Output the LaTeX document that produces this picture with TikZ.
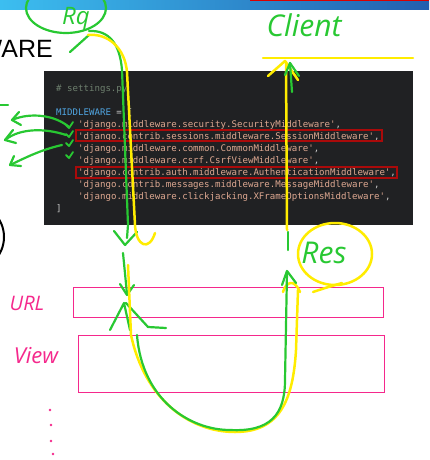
\documentclass[tikz,border=0pt]{standalone}
\usepackage{fontspec}
\setmainfont{Liberation Sans}
\newfontfamily\codefont{DejaVu Sans Mono}[Ligatures=TeXOff]
\newfontfamily\handfont{Open Sans}
\definecolor{hgreen}{RGB}{40,200,50}
\definecolor{hyellow}{RGB}{255,236,0}
\definecolor{hpink}{RGB}{245,40,140}
\definecolor{boxbg}{RGB}{32,33,35}
\definecolor{strcol}{RGB}{222,168,145}
\definecolor{kwcol}{RGB}{80,165,225}
\definecolor{cmtcol}{RGB}{110,128,110}
\definecolor{punct}{RGB}{200,200,200}
\definecolor{redbox}{RGB}{170,10,10}
\definecolor{bannerL}{RGB}{60,190,240}
\definecolor{bannerR}{RGB}{35,95,175}
\begin{document}
\begin{tikzpicture}[x=1pt,y=-1pt,
  codeln/.style={anchor=base west, inner sep=0pt, text=strcol, font=\codefont\fontsize{9.1pt}{11pt}\selectfont},
  grn/.style={draw=hgreen, line width=2.2pt, line cap=round, line join=round},
  ylw/.style={draw=hyellow, line width=2.5pt, line cap=round, line join=round},
  chk/.style={draw=hgreen, line width=1.8pt, line cap=round, line join=round},
  pinkbox/.style={draw=hpink, line width=1.3pt, anchor=north west, inner sep=0pt},
  redframe/.style={draw=redbox, line width=1.1pt},
  hand/.style={inner sep=0pt, font=\handfont\itshape\fontsize{#1}{#1}\selectfont},
]
\useasboundingbox (0,0) rectangle (429,460);
\clip (0,0) rectangle (429,460);
\fill[white] (0,0) rectangle (429,460);
% banner
\shade[left color=bannerL, right color=bannerR] (0,0) rectangle (429,10);
\fill[red!85!black] (250,0) rectangle (429,1.5);
% title (cut off at the left edge, as in the screenshot)
\node[anchor=base east, inner sep=0pt, font=\fontsize{25pt}{25pt}\selectfont] (title) at (53,57) {WARE};
% code box
\node[fill=boxbg, minimum width=369pt, minimum height=154pt, anchor=north west, inner sep=0pt] (code) at (44,71) {};
\node[codeln, text=cmtcol] (c0) at (56,91) {\# settings.py};
\node[codeln] (c1) at (56,115) {\textcolor{kwcol}{MIDDLEWARE} \textcolor{punct}{= [}};
\node[codeln] (l1) at (78,127) {'django.middleware.security.SecurityMiddleware'\textcolor{punct}{,}};
\node[codeln] (l2) at (78,139) {'django.contrib.sessions.middleware.SessionMiddleware'\textcolor{punct}{,}};
\node[codeln] (l3) at (78,151) {'django.middleware.common.CommonMiddleware'\textcolor{punct}{,}};
\node[codeln] (l4) at (78,163) {'django.middleware.csrf.CsrfViewMiddleware'\textcolor{punct}{,}};
\node[codeln] (l5) at (78,175) {'django.contrib.auth.middleware.AuthenticationMiddleware'\textcolor{punct}{,}};
\node[codeln] (l6) at (78,187) {'django.contrib.messages.middleware.MessageMiddleware'\textcolor{punct}{,}};
\node[codeln] (l7) at (78,199) {'django.middleware.clickjacking.XFrameOptionsMiddleware'\textcolor{punct}{,}};
\node[codeln, text=punct] (c9) at (56,211) {]};
\draw[redframe] (76,130) rectangle (382,141);
\draw[redframe] (76,167) rectangle (397,178);
% pink boxes
\node[pinkbox, minimum width=310pt, minimum height=30pt] (url) at (73,287) {};
\node[pinkbox, minimum width=306pt, minimum height=57pt] (view) at (78,335) {};
\node[hand=20, text=hpink] (urllbl) at (27,303) {URL};
\node[hand=22, text=hpink] (viewlbl) at (36,356) {View};
\foreach \p in {(50,410),(51,425),(51,441),(53,454)} \fill[hpink] \p circle (1.3pt);
% black arc at left
\draw[black, line width=2pt] (-30,237) circle (34pt);
% hand labels
\node[hand=30, text=hgreen] (client) at (304,25) {Client};
\node[hand=30, text=hgreen] (res) at (324,253) {Res};
\node[hand=24, text=hgreen] (req) at (76,19) {Rq};
% circles
\draw[grn] (66,8) ellipse [x radius=40pt, y radius=25pt];
\draw[grn] (70,52) -- (89,35);
\draw[ylw] (335,254) ellipse [x radius=37pt, y radius=31pt];
\draw[ylw] (313,292) .. controls (325,288) .. (342,283);
% left checkmarks and arrows
\foreach \y in {126,135,144,156} \draw[chk] (66,\y-1) -- (69,\y+2) -- (73,\y-4);
\draw[grn] (69,127) .. controls (55,115) and (30,112) .. (12,120);
\draw[grn] (19,112) -- (12,120) -- (21,125);
\draw[grn] (66,135) .. controls (45,128) and (20,128) .. (5,140);
\draw[grn] (13,130) -- (5,140) -- (16,143);
\draw[grn] (62,145) .. controls (40,150) and (25,158) .. (10,165);
\draw[grn] (14,156) -- (10,165) -- (21,166);
\draw[grn] (0,105) -- (8,105);
% request path (down)
\draw[grn] (89,31) .. controls (110,30) and (120,45) .. (122,70) -- (128,225) -- (127,238);
\draw[grn] (114,231) -- (125,245) -- (137,232);
\draw[ylw] (88,35) .. controls (108,33) and (125,48) .. (127,72) -- (135,225) .. controls (136,246) and (149,252) .. (155,233);
\draw[grn] (123,253) -- (127,294);
\draw[grn] (120,284) -- (127,295) -- (134,285);
\draw[grn] (110,330) -- (124,303) -- (130,330);
\draw[grn] (126,303) -- (148,327) -- (166,328);
% U-turn to response
\draw[ylw] (128,265) -- (131,335) .. controls (145,400) and (190,432) .. (235,432) .. controls (280,432) and (293,400) .. (296,350) -- (298,290);
\draw[ylw] (283,292) .. controls (286,282) and (294,278) .. (300,292);
\draw[grn] (137,335) .. controls (142,400) and (190,430) .. (230,430) .. controls (270,432) and (285,415) .. (285,380) -- (287,272);
\draw[grn] (282,285) -- (287,271) -- (296,283);
\draw[grn] (288,232) -- (288,250);
% response path (up)
\draw[ylw] (287,230) -- (286,62);
\draw[ylw] (268,76) -- (285,61) -- (298,80);
\draw[ylw] (263,58) -- (413,58);
\draw[grn] (292,92) -- (290,63);
\draw[grn] (285,75) -- (290,63) -- (299,76);
\end{tikzpicture}
\end{document}
